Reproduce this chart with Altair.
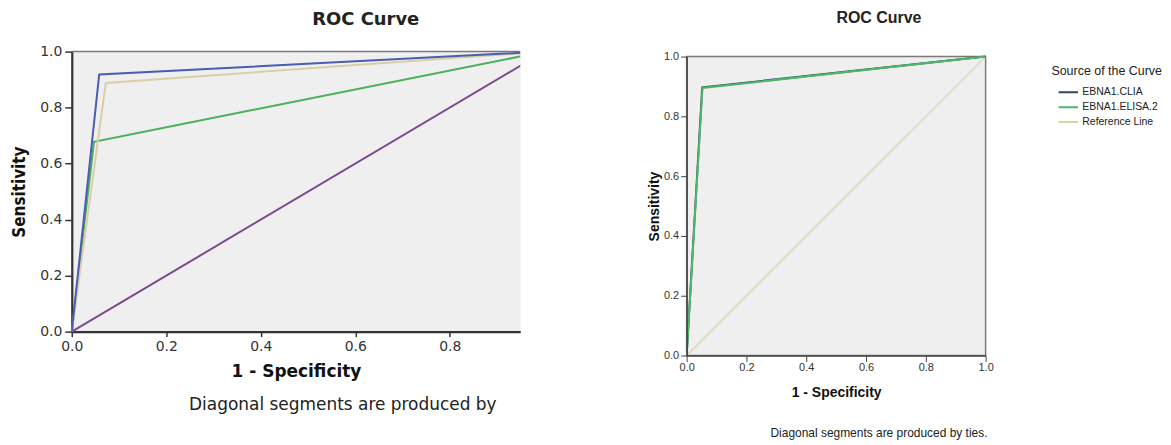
import altair as alt
import pandas as pd

# ---------------- data ----------------
# Left panel (cropped in the reference at x ~ 0.95)
left_series = ["Curve A", "Curve B", "Curve C", "Reference"]
left_fpr = {
    "Curve A": [0.0, 0.058, 1.0],
    "Curve B": [0.0, 0.072, 1.0],
    "Curve C": [0.0, 0.047, 1.0],
    "Reference": [0.0, 1.0],
}
left_tpr = {
    "Curve A": [0.0, 0.918, 1.0],
    "Curve B": [0.0, 0.888, 1.0],
    "Curve C": [0.0, 0.678, 1.0],
    "Reference": [0.0, 1.0],
}
left_colors = ["#4a5db0", "#d9cfa6", "#4caf5c", "#7b4a8e"]
left_draw_order = ["Reference", "Curve C", "Curve B", "Curve A"]

# Right panel
right_series = ["EBNA1.CLIA", "EBNA1.ELISA.2", "Reference Line"]
right_fpr = {
    "EBNA1.CLIA": [0.0, 0.052, 1.0],
    "EBNA1.ELISA.2": [0.0, 0.053, 1.0],
    "Reference Line": [0.0, 1.0],
}
right_tpr = {
    "EBNA1.CLIA": [0.0, 0.897, 1.0],
    "EBNA1.ELISA.2": [0.0, 0.895, 1.0],
    "Reference Line": [0.0, 1.0],
}
right_colors = ["#34465a", "#4db86c", "#d8d3a2"]
right_draw_order = ["Reference Line", "EBNA1.CLIA", "EBNA1.ELISA.2"]

tick_values = [0.0, 0.2, 0.4, 0.6, 0.8, 1.0]
left_tick_values = [0.0, 0.2, 0.4, 0.6, 0.8]
note_left = "Diagonal segments are produced by"
note_right = "Diagonal segments are produced by ties."


def make_df(series, fpr, tpr):
    rows = []
    for s in series:
        for x, y in zip(fpr[s], tpr[s]):
            rows.append({"series": s, "fpr": x, "tpr": y})
    return pd.DataFrame(rows)


left_df = make_df(left_series, left_fpr, left_tpr)
right_df = make_df(right_series, right_fpr, right_tpr)

# ---------------- left panel ----------------
LW, LH = 450, 281
lfont = "DejaVu Sans"
lx = alt.X(
    "fpr:Q",
    scale=alt.Scale(domain=[0, 0.949], nice=False, zero=False),
    axis=alt.Axis(
        values=left_tick_values, format=".1f", title="1 - Specificity", labelFlush=False,
        grid=False, domainColor="#333333", domainWidth=2.2, tickColor="#333333",
        tickWidth=1.5, tickSize=5, labelPadding=3, labelFont=lfont, labelFontSize=14,
        labelColor="#333333", titleFont=lfont, titleFontSize=17, titleFontWeight="bold",
        titleColor="#111111", titlePadding=10,
    ),
)
ly = alt.Y(
    "tpr:Q",
    scale=alt.Scale(domain=[0, 1], nice=False),
    axis=alt.Axis(
        values=tick_values, format=".1f", title="Sensitivity", labelFlush=False,
        grid=False, domainColor="#333333", domainWidth=2.2, tickColor="#333333",
        tickWidth=1.5, tickSize=7, labelPadding=3, labelFont=lfont, labelFontSize=14,
        labelColor="#333333", titleFont="Liberation Sans Narrow, DejaVu Sans Condensed, Liberation Sans",
        titleFontSize=17, titleFontWeight="bold", titleColor="#111111", titlePadding=11,
    ),
)
lcolor = alt.Color("series:N", scale=alt.Scale(domain=left_series, range=left_colors), legend=None)

left_layers = []
for s in left_draw_order:
    left_layers.append(
        alt.Chart(left_df).transform_filter(alt.datum.series == s)
        .mark_line(strokeWidth=2, clip=True)
        .encode(x=lx, y=ly, color=lcolor)
    )
left_border = alt.Chart(pd.DataFrame({"a": [0.0], "b": [0.949], "y": [1.0]})).mark_rule(
    color="#7a7a7a", strokeWidth=1.5
).encode(x=alt.X("a:Q"), x2="b:Q", y=alt.Y("y:Q"))
left_note = alt.Chart(pd.DataFrame({"t": [note_left]})).mark_text(
    font=lfont, fontSize=17, color="#222222", align="center", baseline="middle"
).encode(text="t:N", x=alt.value(272), y=alt.value(355))

left = alt.layer(*left_layers, left_border, left_note).properties(
    width=LW, height=LH,
    title=alt.Title("ROC Curve", font=lfont, fontSize=18, fontWeight="bold", color="#222222",
                    anchor="middle", frame="group", dx=70, offset=16),
    view=alt.ViewBackground(fill="#efefef", strokeOpacity=0),
)

# ---------------- right panel ----------------
# The right group is 5px taller than its plot; the y scale leaves a 5px gap at the top
RW, RH, RTOP = 300, 305, 5
rfont = "Liberation Sans"
rx = alt.X(
    "fpr:Q",
    scale=alt.Scale(domain=[0, 1], nice=False),
    axis=alt.Axis(
        values=tick_values, format=".1f", title="1 - Specificity", labelFlush=False,
        grid=False, domainColor="#444444", domainWidth=1.5, tickColor="#444444",
        tickSize=6, labelPadding=0, labelFont=rfont, labelFontSize=11, labelColor="#333333",
        titleFont=rfont, titleFontSize=14, titleFontWeight="bold", titleColor="#111111",
        titlePadding=13, zindex=1,
    ),
)
ry = alt.Y(
    "tpr:Q",
    scale=alt.Scale(domain=[0, 1], nice=False, range=[RH, RTOP]),
    axis=alt.Axis(
        values=tick_values, format=".1f", title="Sensitivity", labelFlush=False,
        grid=False, domainColor="#444444", domainWidth=1.5, tickColor="#444444",
        tickSize=6, labelPadding=2, labelFont=rfont, labelFontSize=11, labelColor="#333333",
        titleFont=rfont, titleFontSize=14, titleFontWeight="bold", titleColor="#111111",
        titlePadding=2, zindex=1,
    ),
)
rcolor = alt.Color(
    "series:N",
    scale=alt.Scale(domain=right_series, range=right_colors),
    legend=alt.Legend(
        title="Source of the Curve", orient="none", legendX=366, legendY=13,
        symbolType="stroke", symbolSize=380, symbolStrokeWidth=2, symbolOffset=6,
        labelFont="Liberation Sans Narrow, Liberation Sans", labelFontSize=10.5,
        labelColor="#222222", labelOffset=3, rowPadding=0, clipHeight=14.5,
        titleFont=rfont, titleFontSize=12.5, titleFontWeight="normal", titleColor="#222222",
        titlePadding=8,
    ),
)
right_bg = alt.Chart(pd.DataFrame({"x0": [0.0], "x1": [1.0], "y0": [0.0], "y1": [1.0]})).mark_rect(
    fill="#efefef", stroke="#7a7a7a", strokeWidth=1.5
).encode(x=alt.X("x0:Q", scale=alt.Scale(domain=[0, 1], nice=False)), x2="x1:Q",
         y=alt.Y("y0:Q", scale=alt.Scale(domain=[0, 1], nice=False, range=[RH, RTOP])), y2="y1:Q")
right_layers = [right_bg]
for s in right_draw_order:
    sw = 1.2 if s == "Reference Line" else 2
    right_layers.append(
        alt.Chart(right_df).transform_filter(alt.datum.series == s)
        .mark_line(strokeWidth=sw, clip=True)
        .encode(x=rx, y=ry, color=rcolor)
    )
right_note = alt.Chart(pd.DataFrame({"t": [note_right]})).mark_text(
    font=rfont, fontSize=12, color="#222222", align="center", baseline="middle"
).encode(text="t:N", x=alt.value(193), y=alt.value(383))

right = alt.layer(*right_layers, right_note).properties(
    width=RW, height=RH,
    title=alt.Title("ROC Curve", font=rfont, fontSize=16, fontWeight="bold", color="#222222",
                    anchor="middle", frame="group", dx=43, offset=25),
    view=alt.ViewBackground(fillOpacity=0, strokeOpacity=0),
)

chart = alt.concat(left, right, columns=2, spacing=126).properties(
    padding={"left": 2, "top": 1, "right": 0, "bottom": 0},
    background="white",
).resolve_scale(color="independent", x="independent", y="independent")

chart.save("out.html", embed_options={"renderer": "svg", "actions": False})
